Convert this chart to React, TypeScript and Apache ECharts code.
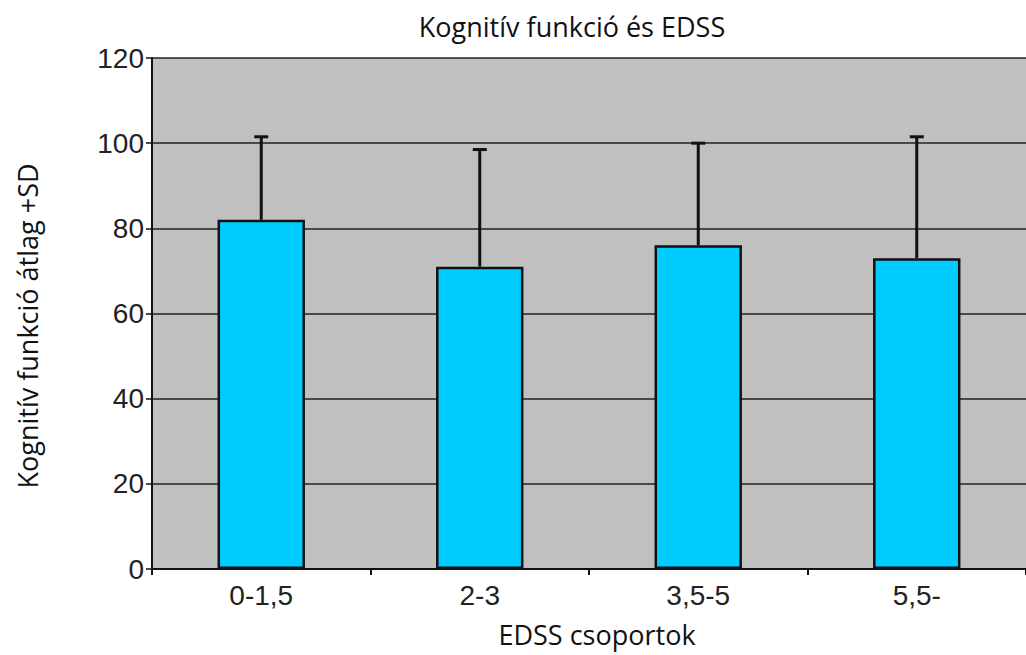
import React, { useEffect, useRef } from "react";
import * as echarts from "echarts";

const categories = ["0-1,5", "2-3", "3,5-5", "5,5-"];
const means = [82, 71, 76, 73];
const sdTops = [101.5, 98.5, 100, 101.5];
const yTicks = [0, 20, 40, 60, 80, 100, 120];

export default function App() {
  const ref = useRef<HTMLDivElement>(null);
  useEffect(() => {
    if (!ref.current) return;
    const chart = echarts.init(ref.current, null, { renderer: "svg" });
    const titleStyle = {
      fontFamily: "Open Sans",
      fontSize: 27,
      fill: "#111",
      align: "center",
      verticalAlign: "middle",
    };
    chart.setOption({
      animation: false,
      backgroundColor: "#ffffff",
      grid: {
        left: 152,
        top: 58,
        width: 881,
        height: 511,
        show: true,
        backgroundColor: "#c0c0c0",
        borderWidth: 0,
      },
      graphic: [
        {
          type: "text",
          x: 572,
          y: 26,
          style: { ...titleStyle, text: "Kognitív funkció és EDSS" },
        },
        {
          type: "text",
          x: 597,
          y: 634,
          style: { ...titleStyle, text: "EDSS csoportok" },
        },
        {
          type: "text",
          x: 27,
          y: 326,
          rotation: Math.PI / 2,
          style: { ...titleStyle, text: "Kognitív funkció átlag +SD" },
        },
      ],
      xAxis: {
        type: "category",
        data: categories,
        boundaryGap: true,
        axisLine: { show: true, lineStyle: { color: "#111", width: 2 } },
        axisTick: { show: true, alignWithLabel: false, length: 6, lineStyle: { color: "#111", width: 2 } },
        axisLabel: {
          color: "#222",
          fontFamily: "Liberation Sans",
          fontSize: 28,
          margin: 12,
        },
        splitLine: { show: false },
        z: 5,
      },
      yAxis: {
        type: "value",
        min: 0,
        max: 120,
        interval: 20,
        axisLine: { show: true, lineStyle: { color: "#111", width: 2 } },
        axisTick: { show: true, length: 6, lineStyle: { color: "#111", width: 1.5 } },
        axisLabel: {
          color: "#222",
          fontFamily: "Liberation Sans",
          fontSize: 28,
          margin: 8,
          formatter: (v: number) => (yTicks.includes(v) ? String(v) : ""),
        },
        splitLine: { show: true, lineStyle: { color: "#222", width: 1.6 } },
      },
      series: [
        {
          type: "bar",
          data: means,
          barWidth: "40%",
          itemStyle: { color: "#00ccff", borderColor: "#111", borderWidth: 2.5 },
          z: 3,
        },
        {
          type: "custom",
          data: means.map((m, i) => [i, m, sdTops[i]]),
          z: 4,
          renderItem: (params: any, api: any) => {
            const x = api.coord([api.value(0), 0])[0];
            const yLow = api.coord([api.value(0), api.value(1)])[1];
            const yHigh = api.coord([api.value(0), api.value(2)])[1];
            const half = 7;
            const style = { stroke: "#111", lineWidth: 3 };
            return {
              type: "group",
              children: [
                { type: "line", shape: { x1: x, y1: yLow, x2: x, y2: yHigh }, style },
                { type: "line", shape: { x1: x - half, y1: yHigh, x2: x + half, y2: yHigh }, style },
              ],
            };
          },
        },
      ],
    });
    return () => chart.dispose();
  }, []);
  return (
    <div
      ref={ref}
      style={{ position: "fixed", left: 0, top: 0, width: 1026, height: 655 }}
    />
  );
}
